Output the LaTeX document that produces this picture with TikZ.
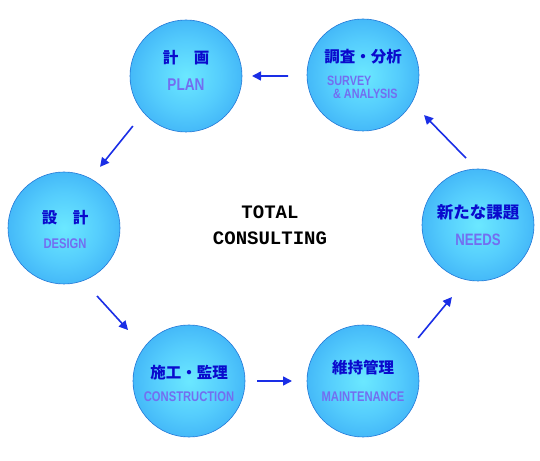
\documentclass[tikz,border=0pt]{standalone}
\usepackage{fontspec}
\usetikzlibrary{calc,arrows.meta}
\newfontfamily\jp{Noto Sans CJK JP}
\newfontfamily\ensf{Liberation Sans}[FakeStretch=0.8]
\newfontfamily\monof{Liberation Mono}
\definecolor{arrowblue}{RGB}{26,46,230}
\definecolor{jpblue}{RGB}{10,10,205}
\definecolor{enpurple}{RGB}{115,110,240}
\definecolor{rimblue}{RGB}{35,120,215}
\pgfdeclareradialshading{ballshade}{\pgfpoint{0bp}{0bp}}{%
  rgb(0bp)=(0.42,0.91,1.0);
  rgb(16bp)=(0.33,0.80,0.99);
  rgb(50bp)=(0.10,0.52,0.93);
  rgb(72bp)=(0.10,0.52,0.93)}
\tikzset{
  ball/.style={circle, minimum size=112pt, inner sep=0pt, shading=ballshade, draw=rimblue, line width=0.6pt},
  jptext/.style={font=\jp\bfseries\fontsize{15.5}{18}\selectfont, text=jpblue, inner sep=0pt},
  entext/.style={font=\ensf\bfseries\fontsize{14}{16}\selectfont, text=enpurple, inner sep=0pt},
  smallen/.style={font=\ensf\bfseries\fontsize{13.5}{14}\selectfont, anchor=west},
  flow/.style={draw=arrowblue, line width=1.6pt, -{Triangle[length=9pt,width=9pt]}}
}
\begin{document}
\begin{tikzpicture}[x=1pt,y=1pt]
\useasboundingbox (0,0) rectangle (540,460);
% circles
\node[ball] (plan) at (186,384) {};
\node[ball] (survey) at (363,385) {};
\node[ball] (design) at (64,232) {};
\node[ball] (needs) at (478,235) {};
\node[ball] (constr) at (189,79) {};
\node[ball] (maint) at (363,79) {};
% texts
\node[jptext] (planjp) at ($(plan)+(0,18)$) {計　画};
\node[entext, font=\ensf\bfseries\fontsize{17}{19}\selectfont] (planen) at ($(plan)+(0,-9)$) {PLAN};
\node[jptext] (surveyjp) at ($(survey)+(0,18)$) {調査・分析};
\node[entext, smallen] (surveyen) at (327,379) {SURVEY};
\node[entext, smallen] (analysisen) at (333,366) {\&\ ANALYSIS};
\node[jptext] (designjp) at ($(design)+(1,10)$) {設　計};
\node[entext] (designen) at ($(design)+(1,-16)$) {DESIGN};
\node[jptext, font=\jp\bfseries\fontsize{16.5}{18}\selectfont] (needsjp) at ($(needs)+(0,13)$) {新たな課題};
\node[entext, font=\ensf\bfseries\fontsize{16.5}{18}\selectfont] (needsen) at ($(needs)+(0,-15)$) {NEEDS};
\node[jptext] (constrjp) at ($(constr)+(0,8)$) {施工・監理};
\node[entext] (constren) at ($(constr)+(0,-16)$) {CONSTRUCTION};
\node[jptext] (maintjp) at ($(maint)+(0,13)$) {維持管理};
\node[entext] (mainten) at ($(maint)+(0,-16)$) {MAINTENANCE};
% centre title
\node[font=\monof\bfseries\fontsize{19}{26}\selectfont, align=center, inner sep=0pt] (title) at (270,235) {TOTAL\\CONSULTING};
% arrows
\draw[flow] ($(survey)+(180.8:75)$) -- ($(plan)+(0:66)$);
\draw[flow] ($(plan)+(223.3:73)$) -- ($(design)+(59.5:71)$);
\draw[flow] ($(design)+(-64.1:75.6)$) -- ($(constr)+(140.1:79.5)$);
\draw[flow] ($(constr)+(0:68)$) -- ($(maint)+(180:71)$);
\draw[flow] ($(maint)+(38:70)$) -- ($(needs)+(250.1:76.6)$);
\draw[flow] ($(needs)+(100.2:68)$) -- ($(survey)+(-33.3:73)$);
\end{tikzpicture}
\end{document}
